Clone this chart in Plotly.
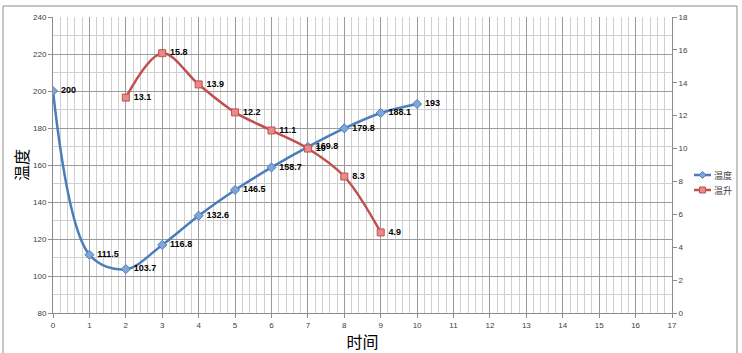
import plotly.graph_objects as go

# Data
time_temp = [0, 1, 2, 3, 4, 5, 6, 7, 8, 9, 10]
temperature = [200, 111.5, 103.7, 116.8, 132.6, 146.5, 158.7, 169.8, 179.8, 188.1, 193]
time_rise = [2, 3, 4, 5, 6, 7, 8, 9]
temp_rise = [13.1, 15.8, 13.9, 12.2, 11.1, 10, 8.3, 4.9]
series_names = ["温度", "温升"]

W, H = 742, 353
L, R, T, B = 53, 70, 17, 40
pw = W - L - R
ph = H - T - B

BLUE, BLUE_FILL = "#4a7ebb", "#7fa6d6"
RED, RED_FILL = "#c0504d", "#e88b88"

def fmt(v):
    return '\u00a0' + ('%g' % v)

def px_x(px):
    return (px - L) / pw

def px_y(py):
    return (H - B - py) / ph

font_cn = "Noto Sans CJK SC"
font_lat = "Liberation Sans, Noto Sans CJK SC"

fig = go.Figure()
fig.add_trace(go.Scatter(
    x=time_temp, y=temperature, name=series_names[0],
    mode="lines+markers+text",
    line=dict(color=BLUE, width=2.5, shape="spline", smoothing=1.0),
    marker=dict(symbol="diamond", size=7, color=BLUE_FILL, line=dict(color=BLUE, width=1)),
    text=[fmt(v) for v in temperature], textposition="middle right",
    textfont=dict(family=font_lat, size=9, color="#000000", weight="bold"),
    yaxis="y",
))
fig.add_trace(go.Scatter(
    x=time_rise, y=temp_rise, name=series_names[1],
    mode="lines+markers+text",
    line=dict(color=RED, width=2.5, shape="spline", smoothing=1.0),
    marker=dict(symbol="square", size=7, color=RED_FILL, line=dict(color=RED, width=1)),
    text=[fmt(v) for v in temp_rise], textposition="middle right",
    textfont=dict(family=font_lat, size=9, color="#000000", weight="bold"),
    yaxis="y2",
))

# Outer frame (bottom edge lies below the visible window, as in the reference)
fig.add_shape(type="rect", xref="paper", yref="paper",
              x0=px_x(3), x1=px_x(737), y0=px_y(360), y1=px_y(6),
              line=dict(color="#8c8c8c", width=1), fillcolor="rgba(0,0,0,0)", layer="below")

# Manual legend (short line samples like the reference)
leg_items = [(series_names[0], BLUE, BLUE_FILL, "diamond", 175),
             (series_names[1], RED, RED_FILL, "square", 190)]
for name, col, fill, sym, cy in leg_items:
    fig.add_shape(type="line", xref="paper", yref="paper",
                  x0=px_x(694), x1=px_x(711), y0=px_y(cy), y1=px_y(cy),
                  line=dict(color=col, width=2.5))
    cx = 702.5
    if sym == "diamond":
        r = 3.5
        path = "M %f,%f L %f,%f L %f,%f L %f,%f Z" % (
            px_x(cx - r), px_y(cy), px_x(cx), px_y(cy - r),
            px_x(cx + r), px_y(cy), px_x(cx), px_y(cy + r))
    else:
        r = 3
        path = "M %f,%f L %f,%f L %f,%f L %f,%f Z" % (
            px_x(cx - r), px_y(cy - r), px_x(cx + r), px_y(cy - r),
            px_x(cx + r), px_y(cy + r), px_x(cx - r), px_y(cy + r))
    fig.add_shape(type="path", xref="paper", yref="paper", path=path,
                  fillcolor=fill, line=dict(color=col, width=1))
    fig.add_annotation(xref="paper", yref="paper", x=px_x(712), y=px_y(cy),
                       xanchor="left", yanchor="middle", showarrow=False,
                       text=name, font=dict(family=font_cn, size=9, color="#404040"))

tickfont = dict(family=font_lat, size=8, color="#404040")

fig.update_layout(
    width=W, height=H,
    margin=dict(l=L, r=R, t=T, b=B, autoexpand=False),
    paper_bgcolor="white", plot_bgcolor="white",
    showlegend=False,
    xaxis=dict(
        range=[0, 17], dtick=1, tick0=0,
        showgrid=True, gridcolor="#9a9a9a", gridwidth=1,
        minor=dict(dtick=0.2, showgrid=True, gridcolor="#cfcfcf", gridwidth=1),
        showline=True, linecolor="#8c8c8c", linewidth=1,
        ticks="outside", ticklen=4, tickcolor="#8c8c8c",
        tickfont=tickfont, zeroline=False, automargin=False,
        title=dict(text="时间", font=dict(family=font_cn, size=16, color="#000000"), standoff=2),
    ),
    yaxis=dict(
        range=[80, 240], dtick=20, tick0=80,
        showgrid=True, gridcolor="#9a9a9a", gridwidth=1,
        minor=dict(dtick=10, showgrid=True, gridcolor="#cfcfcf", gridwidth=1),
        showline=True, linecolor="#8c8c8c", linewidth=1,
        ticks="outside", ticklen=4, tickcolor="#8c8c8c",
        tickfont=tickfont, zeroline=False, automargin=False,
        title=dict(text="温度", font=dict(family=font_cn, size=16, color="#000000"), standoff=0),
    ),
    yaxis2=dict(
        range=[0, 18], dtick=2, tick0=0, overlaying="y", side="right",
        showgrid=False, showline=True, linecolor="#8c8c8c", linewidth=1,
        ticks="outside", ticklen=4, tickcolor="#8c8c8c",
        tickfont=tickfont, zeroline=False, automargin=False,
    ),
)

fig.write_html("out.html")
